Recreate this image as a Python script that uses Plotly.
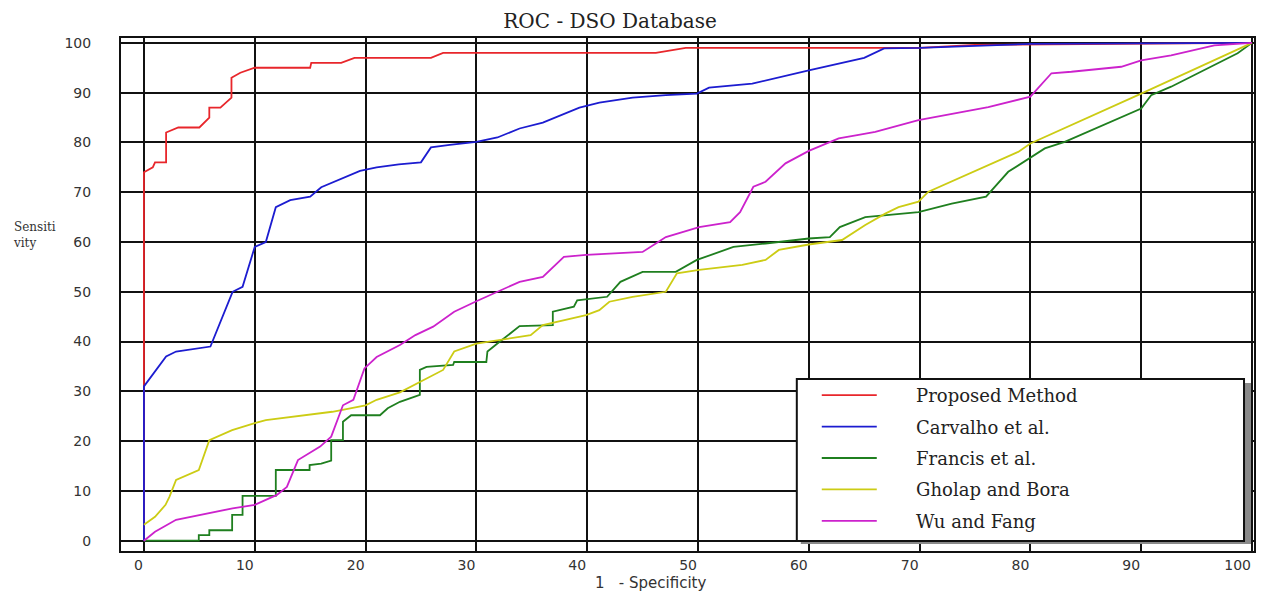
import plotly.graph_objects as go

# ---------------- data ----------------
series_names = ["Proposed Method", "Carvalho et al.", "Francis et al.", "Gholap and Bora", "Wu and Fang"]

proposed_x = [0, 0, 0.8, 1.0, 2.0, 2.0, 3.1, 5.0, 5.9, 5.9, 6.9, 7.9, 7.9, 8.7, 10, 15, 15.1, 17.8, 19,
              25.9, 27, 46.2, 48.9, 70, 75, 100]
proposed_y = [0, 74, 75, 76, 76, 82, 83, 83, 85, 87, 87, 89, 93, 94, 95, 95, 96, 96, 97,
              97, 98, 98, 99, 99, 99.6, 100]

carvalho_x = [0, 0, 2.0, 2.9, 6.0, 8.0, 8.9, 10, 11, 11.9, 13.2, 15, 16, 19.5, 21, 23, 25, 25.9, 27.6,
              30, 31.9, 33.9, 36, 39.3, 41.1, 44.1, 47.1, 49.9, 51, 54.9, 60, 62.7, 65, 66.8, 70, 80, 100]
carvalho_y = [0, 31, 37, 38, 39, 50, 51, 59, 60, 67, 68.4, 69.1, 71, 74.3, 75, 75.6, 76, 79, 79.5,
              80.1, 81, 82.8, 84, 87, 88, 89, 89.5, 89.8, 91, 91.8, 94.5, 95.9, 97, 98.9, 99, 99.8, 100]

francis_x = [0, 4.95, 4.95, 5.9, 5.9, 7.96, 7.96, 8.9, 8.9, 11.9, 11.9, 14.95, 14.95, 16.0, 16.9, 16.9,
             17.96, 17.96, 18.7, 21.3, 22, 23.1, 24, 24.9, 24.9, 25.5, 27.9, 28, 30.9, 31, 31.9, 33.9,
             36.9, 36.9, 38.8, 39.1, 41.8, 43, 45, 48, 49.9, 53.2, 56.1, 60, 61.9, 62.8, 65.1, 69.9,
             72.9, 76.0, 78, 80.1, 81.3, 83.1, 90, 90.9, 92.7, 98.7, 100]
francis_y = [0, 0, 1.1, 1.1, 2.1, 2.1, 5.2, 5.2, 9, 9, 14.2, 14.2, 15.2, 15.5, 16.1, 20.2,
             20.2, 23.9, 25.2, 25.2, 26.6, 27.9, 28.6, 29.3, 34.3, 34.9, 35.3, 35.9, 35.9, 38, 39.6, 43.1,
             43.3, 46, 47, 48.3, 49, 52, 54, 54, 56.4, 59, 59.7, 60.7, 61, 63, 65, 66,
             67.7, 69.1, 74.1, 77.1, 78.8, 80.1, 86.8, 89.5, 91.2, 97.9, 100]

gholap_x = [0, 1, 1.95, 2.3, 2.9, 4.95, 5.9, 7.96, 10, 11, 17, 20, 21, 23.1, 27, 28, 30, 32.1, 34.9, 36,
            39.9, 41.1, 42, 44.1, 47.1, 48.1, 50.1, 54, 56.1, 57.3, 60, 63, 65.1, 66.9, 68.1, 69.9,
            70.8, 78.9, 80, 90, 100]
gholap_y = [3.2, 4.8, 7.2, 8.8, 12.2, 14.2, 20.2, 22.2, 23.6, 24.2, 25.9, 27.2, 28.3, 29.8, 34.3, 38,
            39.6, 40.3, 41.3, 43.3, 45.3, 46.3, 48, 49, 50, 53.7, 54.4, 55.4, 56.4, 58.4, 59.5, 60.4,
            63.4, 65.7, 67, 68.1, 70.1, 78.1, 79.8, 89.8, 100]

wu_x = [0, 1, 2.9, 5, 8, 10, 11, 12, 12.9, 13.9, 15.9, 16.9, 17.96, 18.9, 19.9, 21, 23.1, 24.5, 26.1,
        28, 30, 33.9, 36, 37.9, 39.9, 45, 46.2, 47.1, 50.1, 52.9, 53.8, 54.4, 55, 56.1, 57.9, 60, 62.7,
        64.5, 66, 69.9, 76.2, 80, 81.9, 83.7, 88.2, 90, 92.7, 96.6, 100]
wu_y = [0, 1.8, 4.2, 5.2, 6.5, 7.2, 8.2, 9.2, 10.8, 16.2, 18.9, 20.9, 27.2, 28.3, 34.6, 36.9, 39.3, 41.3,
        43, 46, 48.1, 52, 53, 57, 57.4, 58, 59.7, 61, 63, 64, 66, 68.4, 71.1, 72.1, 75.8, 78.3, 80.8,
        81.5, 82.1, 84.5, 87.1, 89.2, 93.9, 94.2, 95.2, 96.5, 97.5, 99.5, 100]

tick_vals = [0, 10, 20, 30, 40, 50, 60, 70, 80, 90, 100]
tick_text = ["0", "10", "20", "30", "40", "50", "60", "70", "80", "90", "100"]

# ---------------- styling ----------------
colors = ["#e8262b", "#1c1cd0", "#1f7f1f", "#cccc14", "#cc22cc"]
W, H = 1262, 592
ML, MR, MT, MB = 121, 6, 38, 41
PW, PH = W - ML - MR, H - MT - MB
LEGEND_PAD = "\u00a0" * 6


def px_x(p):
    return (p - ML) / PW


def px_y(p):
    return (H - MB - p) / PH


fig = go.Figure()
all_x = [proposed_x, carvalho_x, francis_x, gholap_x, wu_x]
all_y = [proposed_y, carvalho_y, francis_y, gholap_y, wu_y]
for name, xs, ys, c in zip(series_names, all_x, all_y, colors):
    fig.add_trace(go.Scatter(x=xs, y=ys, mode="lines", name=LEGEND_PAD + name, legendgroup=name,
                             line=dict(color=c, width=1.8)))

axis_common = dict(
    tickmode="array", tickvals=tick_vals, ticktext=tick_text,
    showgrid=True, gridcolor="#111111", gridwidth=2,
    zeroline=False, showline=True, mirror=True, linecolor="#111111", linewidth=2,
    ticks="", tickfont=dict(family="DejaVu Sans", size=14, color="#333333"),
)

fig.update_layout(
    width=W, height=H,
    margin=dict(l=ML, r=MR, t=MT, b=MB),
    paper_bgcolor="white", plot_bgcolor="white",
    title=dict(text="ROC - DSO Database", x=610 / W, xanchor="center", y=1 - 21 / H, yanchor="middle",
               font=dict(family="DejaVu Serif", size=20, color="#222222")),
    xaxis=dict(range=[-2.07, 100.18], ticklabelstandoff=0, ticklabelposition="outside left", **axis_common),
    yaxis=dict(range=[-2.07, 100.98], ticklabelstandoff=25, **axis_common),
    showlegend=True,
    legend=dict(x=px_x(818), xanchor="left", y=px_y(377), yanchor="top",
                bgcolor="rgba(0,0,0,0)", borderwidth=0, tracegroupgap=5, itemwidth=55,
                font=dict(family="DejaVu Serif", size=18, color="#222222")),
    shapes=[
        dict(type="rect", xref="paper", yref="paper", layer="above",
             x0=px_x(802), x1=px_x(1253), y0=px_y(544), y1=px_y(383),
             fillcolor="#8a8a8a", line=dict(width=0)),
        dict(type="rect", xref="paper", yref="paper", layer="above",
             x0=px_x(798), x1=px_x(1246), y0=px_y(541), y1=px_y(379),
             fillcolor="white", line=dict(color="#111111", width=2)),
    ],
    annotations=[
        dict(text="Sensiti<br>vity", xref="paper", yref="paper", x=px_x(11), xanchor="left",
             y=px_y(235), yanchor="middle", align="left", showarrow=False,
             font=dict(family="DejaVu Serif", size=12, color="#333333")),
        dict(text="1\u00a0\u00a0 - Specificity", xref="paper", yref="paper", x=px_x(651), xanchor="center",
             y=px_y(582.5), yanchor="middle", showarrow=False,
             font=dict(family="DejaVu Sans", size=15, color="#333333")),
    ],
)

fig.write_html("out.html", config={"displayModeBar": False},
               post_script="document.body.style.margin='0px';")
